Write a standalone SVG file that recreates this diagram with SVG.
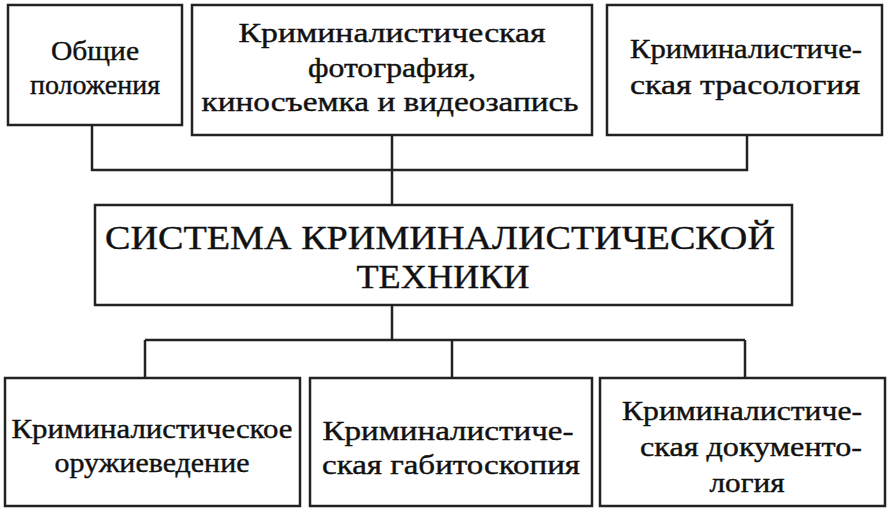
<svg xmlns="http://www.w3.org/2000/svg" width="892" height="512" viewBox="0 0 892 512">
<style>
rect{fill:#fff;stroke:#222;stroke-width:2.5}
text{font-family:"Liberation Serif",serif;font-size:27px;fill:#111;text-anchor:middle;stroke:#111;stroke-width:0.4}
.big{font-size:34px}
#c path{stroke:#222;stroke-width:2.5;fill:none}
</style>
<rect x="0" y="0" width="892" height="512" style="fill:#fff;stroke:none"/>
<g id="c">
<path d="M92 125V170H747V135M392 135V205M392 305V340M145 340H745M145 340V378M452 340V378M745 340V378"/>
</g>
<g id="n1"><rect x="8" y="5" width="174" height="120"/><text x="95" y="60" textLength="88" lengthAdjust="spacingAndGlyphs">Общие</text><text x="95" y="94" textLength="130" lengthAdjust="spacingAndGlyphs">положения</text></g>
<g id="n2"><rect x="192" y="5" width="400" height="130"/><text x="392" y="42" textLength="307" lengthAdjust="spacingAndGlyphs">Криминалистическая</text><text x="392" y="77" textLength="168" lengthAdjust="spacingAndGlyphs">фотография,</text><text x="390" y="111" textLength="377" lengthAdjust="spacingAndGlyphs">киносъемка и видеозапись</text></g>
<g id="n3"><rect x="607" y="5" width="275" height="130"/><text x="746" y="58" textLength="232" lengthAdjust="spacingAndGlyphs">Криминалистиче-</text><text x="745" y="94" textLength="230" lengthAdjust="spacingAndGlyphs">ская трасология</text></g>
<g id="n4"><rect x="95" y="205" width="697" height="100"/><text class="big" x="440" y="249" textLength="670" lengthAdjust="spacingAndGlyphs">СИСТЕМА КРИМИНАЛИСТИЧЕСКОЙ</text><text class="big" x="443" y="288" textLength="173" lengthAdjust="spacingAndGlyphs">ТЕХНИКИ</text></g>
<g id="n5"><rect x="5" y="378" width="295" height="128"/><text x="152" y="438" textLength="281" lengthAdjust="spacingAndGlyphs">Криминалистическое</text><text x="152" y="472" textLength="195" lengthAdjust="spacingAndGlyphs">оружиеведение</text></g>
<g id="n6"><rect x="310" y="378" width="282" height="128"/><text x="448" y="440" textLength="251" lengthAdjust="spacingAndGlyphs">Криминалистиче-</text><text x="451" y="474" textLength="258" lengthAdjust="spacingAndGlyphs">ская габитоскопия</text></g>
<g id="n7"><rect x="600" y="378" width="285" height="128"/><text x="742" y="420" textLength="240" lengthAdjust="spacingAndGlyphs">Криминалистиче-</text><text x="751" y="456" textLength="222" lengthAdjust="spacingAndGlyphs">ская документо-</text><text x="747" y="492" textLength="75" lengthAdjust="spacingAndGlyphs">логия</text></g>
</svg>
